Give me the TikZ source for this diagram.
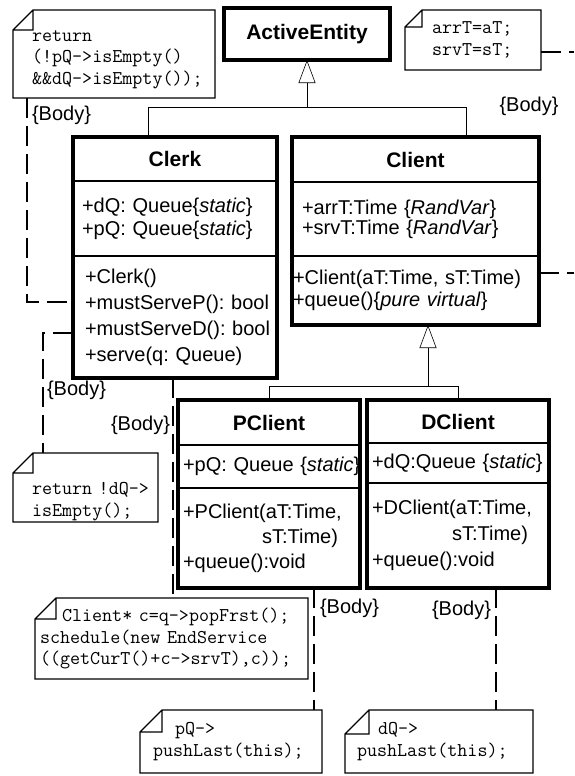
\documentclass[tikz,border=0pt]{standalone}
\usepackage{fontspec}
\setmainfont{Liberation Sans}
\usetikzlibrary{positioning, arrows.meta}

\begin{document}
\begin{tikzpicture}[x = 1pt, y = -1pt, % one unit per pixel, y downwards
        > = {Triangle[open, length = 23pt, width = 17pt]}, % generalization head
        semithick % line style
    ]

    \tikzstyle{every node}=[inner sep = 0pt, outer sep = 0pt]
    \tikzstyle{clstitle}=[draw, line width = 1.3pt, anchor = north west,
    font = \fontsize{21}{25}\selectfont\bfseries]
    \tikzstyle{clspart}=[draw, line width = 1.3pt, align = left,
    font = \fontsize{20}{24}\selectfont,
    execute at begin node = {\exhyphenpenalty=10000 \hyphenpenalty=10000}]
    \tikzstyle{clsborder}=[line width = 3.2pt]
    \tikzstyle{notebox}=[anchor = north west, align = left,
    font = \fontsize{19.5}{21.5}\selectfont\ttfamily,
    execute at begin node = {\exhyphenpenalty=10000 \hyphenpenalty=10000}]
    \tikzstyle{noteline}=[line width = 1.3pt]
    \tikzstyle{bodyline}=[line width = 1.3pt, dash pattern = on 20pt off 8pt]
    \tikzstyle{bodytag}=[font = \fontsize{20}{24}\selectfont]

    \useasboundingbox (0,0) rectangle (574,776);

    % classes
    \node[clstitle, clsborder, minimum width = 166pt, minimum height = 52pt]
    (active) at (224,8) {ActiveEntity};

    \node[clstitle, minimum width = 204pt, minimum height = 44pt] (clerkT) at
    (73,137) {Clerk}; \node[clspart, below = 0pt of clerkT, minimum width =
    204pt, minimum height = 75pt, text width = 186pt, font =
    \fontsize{20}{23}\selectfont] (clerkA) {+dQ:~Queue\{\textit{static}\}\\
    +pQ:~Queue\{\textit{static}\}}; \node[clspart, below = 0pt of clerkA,
    minimum width = 204pt, minimum height = 122pt, text width = 180pt, font =
    \fontsize{20}{26}\selectfont] (clerkM) {+Clerk()\\ +mustServeP():~bool\\
    +mustServeD():~bool\\ +serve(q:~Queue)};
    \draw[clsborder] (clerkT.north west) rectangle (clerkM.south east);

    \node[clstitle, minimum width = 247pt, minimum height = 45pt] (clientT) at
    (292,137) {Client}; \node[clspart, below = 0pt of clientT, minimum width =
    247pt, minimum height = 74pt, text width = 227pt, font =
    \fontsize{20}{20}\selectfont] (clientA) {+arrT:Time~\{\textit{RandVar}\}\\
    +srvT:Time~\{\textit{RandVar}\}}; \node[clspart, below = 0pt of clientA,
    minimum width = 247pt, minimum height = 69pt, text width = 245pt, font =
    \fontsize{20}{22}\selectfont] (clientM) {+Client(aT:Time,~sT:Time)\\
    +queue()\{\textit{pure~virtual}\}};
    \draw[clsborder] (clientT.north west) rectangle (clientM.south east);

    \node[clstitle, minimum width = 182pt, minimum height = 45pt] (pclientT) at
    (178,400) {PClient}; \node[clspart, below = 0pt of pclientT, minimum width
    = 182pt, minimum height = 43pt, text width = 172pt] (pclientA)
    {+pQ:~Queue~\{\textit{static}\}}; \node[clspart, below = 0pt of pclientA,
    minimum width = 182pt, minimum height = 100pt, text width = 172pt, font =
    \fontsize{20}{25}\selectfont] (pclientM) {+PClient(aT:Time,\\
    \hspace*{79pt}sT:Time)\\ +queue():void};
    \draw[clsborder] (pclientT.north west) rectangle (pclientM.south east);

    \node[clstitle, minimum width = 182pt, minimum height = 43pt] (dclientT) at
    (367,400) {DClient}; \node[clspart, below = 0pt of dclientT, minimum width
    = 182pt, minimum height = 40pt, text width = 172pt] (dclientA)
    {+dQ:Queue~\{\textit{static}\}}; \node[clspart, below = 0pt of dclientA,
    minimum width = 182pt, minimum height = 105pt, text width = 172pt, font =
    \fontsize{20}{26}\selectfont] (dclientM) {+DClient(aT:Time,\\
    \hspace*{80pt}sT:Time)\\ +queue():void};
    \draw[clsborder] (dclientT.north west) rectangle (dclientM.south east);

    % notes
    \node[notebox, minimum width = 202pt, minimum height = 88pt, text width =
    164pt] (mustPnote) at (13,10) {\rule{0pt}{22pt}return\\ (!pQ->isEmpty()\\
    \&\&dQ->isEmpty());}; \node[notebox, minimum width = 136pt, minimum height
    = 60pt, text width = 82pt] (initnote) at (405,10) {arrT=aT;\\ srvT=sT;};
    \node[notebox, minimum width = 145pt, minimum height = 69pt, text width =
    107pt] (mustDnote) at (13,453) {\rule{0pt}{40pt}return~!dQ->\\
    isEmpty();}; \node[notebox, minimum width = 273pt, minimum height = 81pt,
    text width = 263pt] (servenote) at (35,598)
    {\hspace*{22pt}Client*~c=q->popFrst();\\ schedule(new~EndService\\
    ((getCurT()+c->srvT),c));}; \node[notebox, minimum width = 182pt, minimum
    height = 63pt, text width = 156pt] (pqnote) at (140,710)
    {\hspace*{22pt}pQ->\\ pushLast(this);}; \node[notebox, minimum width =
    188pt, minimum height = 63pt, text width = 164pt] (dqnote) at (345,710)
    {\hspace*{21pt}dQ->\\ pushLast(this);};

    \foreach \n/\d in {mustPnote/20, initnote/17, mustDnote/20, servenote/21,
    pqnote/22, dqnote/24} \draw[noteline] ([xshift = \d pt]\n.north west) --
    (\n.north east) -- (\n.south east) -- (\n.south west) -- ([yshift = -\d
    pt]\n.north west) -- cycle ([xshift = \d pt]\n.north west) -- ++(0,\d) --
    ([yshift = -\d pt]\n.north west);

    % generalizations
    \coordinate (genA) at (307,107); \draw (genA) -| ([xshift = -27pt]clerkT.north);
    \draw (genA) -| ([xshift = 50.5pt]clientT.north); \draw[->] (genA) --
    (active.south);

    \coordinate (genB) at (428,386); \draw (genB) -| (pclientT.north); \draw
    (genB) -| (dclientT.north); \draw[->] (genB) -- (genB |- clientM.south);

    % method bodies
    \coordinate (bendP) at (27,302); \draw[bodyline] (mustPnote.south -| bendP)
    -- (bendP) -- (bendP -| clerkM.west); \node[bodytag, anchor = west] (tagP)
    at (32,115) {\{Body\}};

    \coordinate (bendD) at (43,333); \draw[bodyline] (bendD -| clerkM.west) --
    (bendD) -- (bendD |- mustDnote.north); \node[bodytag, anchor = west] (tagD)
    at (47,390) {\{Body\}};

    \coordinate (serveX) at (173,0); \draw[bodyline] (clerkM.south -| serveX)
    -- (serveX |- servenote.north); \node[bodytag, anchor = east] (tagS) at
    (170,425) {\{Body\}};

    \coordinate (pqX) at (314,0); \draw[bodyline] (pclientM.south -| pqX) --
    (pqX |- pqnote.north); \node[bodytag, anchor = west] (tagPQ) at (320,608)
    {\{Body\}};

    \coordinate (dqX) at (496,0); \draw[bodyline] (dclientM.south -| dqX) --
    (dqX |- dqnote.north); \node[bodytag, anchor = east] (tagDQ) at (491,610)
    {\{Body\}};

    \coordinate (offA) at (574,52); \draw[bodyline] (initnote.east |- offA) --
    (offA); \coordinate (offB) at (574,273); \draw[bodyline] (clientM.east |-
    offB) -- (offB); \node[bodytag] (tagI) at (529,106) {\{Body\}};
\end{tikzpicture}
\end{document}
